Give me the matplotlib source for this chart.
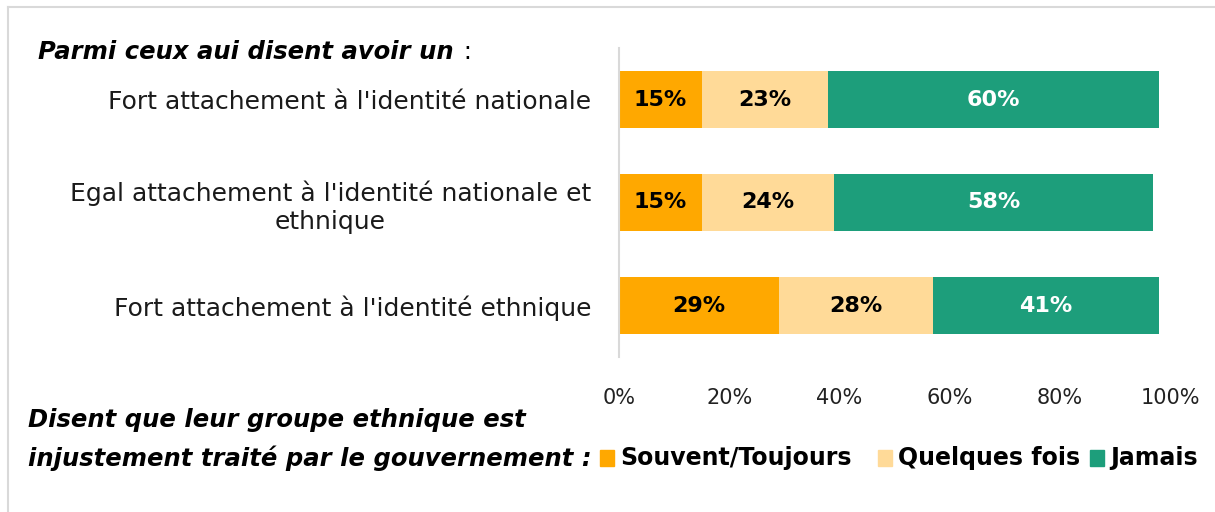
import matplotlib
matplotlib.use("Agg")
import matplotlib.pyplot as plt
from matplotlib.lines import Line2D
from matplotlib.patches import Rectangle

categories = ["Fort attachement à l'identité nationale",
              "Egal attachement à l'identité nationale et\nethnique",
              "Fort attachement à l'identité ethnique"]
series_names = ["Souvent/Toujours", "Quelques fois", "Jamais"]
souvent = [15, 15, 29]
quelques = [23, 24, 28]
jamais = [60, 58, 41]
x_ticks = [0, 20, 40, 60, 80, 100]
x_tick_labels = ["0%", "20%", "40%", "60%", "80%", "100%"]

colors = ["#FFA800", "#FFDA98", "#1D9E7B"]
text_colors = ["black", "black", "white"]

plt.rcParams['font.family'] = ['DejaVu Sans']

W, H = 1215, 512
fig = plt.figure(figsize=(W / 100, H / 100), dpi=100)

def fx(x):
    return x / W

def fy(y):
    return 1 - y / H

ax = fig.add_axes([fx(619), fy(357), fx(1170) - fx(619), fy(48) - fy(357)])

series = [souvent, quelques, jamais]
ypos = list(range(len(categories)))
left = [0] * len(categories)
for vals, col, tc in zip(series, colors, text_colors):
    bars = ax.barh(ypos, vals, left=left, height=0.55, color=col, edgecolor='none')
    for b, v in zip(bars, vals):
        ax.text(b.get_x() + b.get_width() / 2, b.get_y() + b.get_height() / 2,
                f"{v}%", ha='center', va='center', color=tc,
                fontsize=16, fontweight='bold')
    left = [l + v for l, v in zip(left, vals)]

ax.set_xlim(0, 100)
ax.set_ylim(2.5, -0.5)
ax.set_yticks(ypos)
ax.set_yticklabels(categories, fontsize=18, multialignment='center', color='#1a1a1a')
ax.set_xticks(x_ticks)
ax.set_xticklabels(x_tick_labels, fontsize=15, color='#222222')
ax.tick_params(axis='both', length=0)
ax.tick_params(axis='y', pad=20)
ax.tick_params(axis='x', pad=22)
for s in ['top', 'right', 'bottom']:
    ax.spines[s].set_visible(False)
ax.spines['left'].set_color('#d9d9d9')
ax.spines['left'].set_linewidth(1.5)

# frame lines
fig.add_artist(Line2D([fx(8), 1], [fy(7), fy(7)], color='#d9d9d9', lw=1.5))
fig.add_artist(Line2D([fx(8), fx(8)], [0, fy(7)], color='#d9d9d9', lw=1.5))

# title
t = fig.text(fx(38), fy(52), "Parmi ceux aui disent avoir un", fontsize=17.5,
             fontweight='bold', fontstyle='italic', ha='left', va='center')
fig.canvas.draw()
bb = t.get_window_extent()
fig.text(bb.x1 / W + fx(2), fy(52), " :", fontsize=17.5, ha='left', va='center')

# bottom note + legend
fig.text(fx(28), fy(420), "Disent que leur groupe ethnique est", fontsize=17.5,
         fontweight='bold', fontstyle='italic', ha='left', va='center')
fig.text(fx(28), fy(458), "injustement traité par le gouvernement :", fontsize=17.5,
         fontweight='bold', fontstyle='italic', ha='left', va='center')

legend_sq_x = [600, 878, 1090]
for sx, name, col in zip(legend_sq_x, series_names, colors):
    fig.add_artist(Rectangle((fx(sx), fy(466)), fx(14), fy(450) - fy(466),
                             color=col, transform=fig.transFigure))
    fig.text(fx(sx + 20), fy(458), name, fontsize=17, fontweight='bold',
             ha='left', va='center')

fig.savefig("out.png", dpi=100)
